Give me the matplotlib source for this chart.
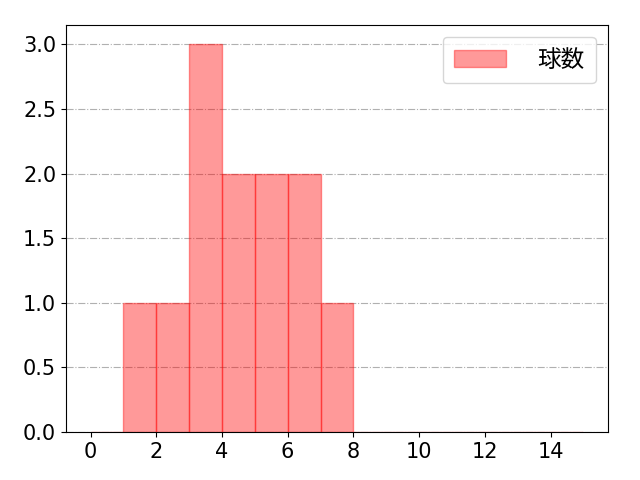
import matplotlib
matplotlib.use("Agg")
import matplotlib.pyplot as plt
import numpy as np

plt.rcParams['font.family'] = ['DejaVu Sans', 'Noto Sans CJK JP']
plt.rcParams['font.size'] = 16

# histogram bins (left edges, width 1) and counts
bin_edges = list(range(0, 16))
counts = [0, 1, 1, 3, 2, 2, 2, 1, 0, 0, 0, 0, 0, 0, 0]
label = '球数'

fig, ax = plt.subplots(figsize=(6.4, 4.8), dpi=100)
ax.hist(bin_edges[:-1], bins=bin_edges, weights=counts,
        color='red', alpha=0.4, edgecolor='red', linewidth=1, label=label)

ax.set_axisbelow(True)
ax.grid(axis='y', linestyle='-.', color='#b0b0b0', linewidth=0.8)
ax.set_xticks(np.arange(0, 15, 2))
ax.set_ylim(0, 3.15)
ax.tick_params(labelsize=15)
ax.legend(loc='upper right', handlelength=2.2, handletextpad=1.3,
          borderpad=0.5, prop={'family': ['Noto Sans CJK JP'], 'size': 17})

fig.subplots_adjust(left=0.103, right=0.95, top=0.948, bottom=0.1)
fig.savefig('out.png')
